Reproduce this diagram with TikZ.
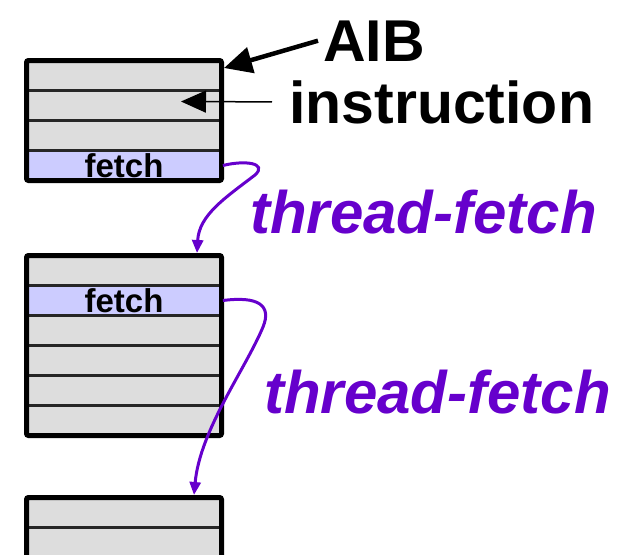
\documentclass[tikz,border=0pt]{standalone}
\usepackage{fontspec}
\setmainfont{Liberation Sans}
\usetikzlibrary{arrows.meta}
\definecolor{slotgray}{RGB}{221,221,221}
\definecolor{fetchblue}{RGB}{204,204,255}
\definecolor{tfpurple}{RGB}{102,0,204}
\begin{document}
\begin{tikzpicture}[x=1pt,y=-1pt]
	\tikzstyle{slot} = [draw=black!85, line width=2.8, fill=slotgray, inner sep=0,
	minimum width=195, minimum height=30]
	\tikzstyle{fetchslot} = [slot, fill=fetchblue, font=\fontsize{33}{36}\selectfont\bfseries]
	\tikzstyle{frame} = [draw=black, line width=5, rounded corners=2, minimum width=195, inner sep=0]
	\tikzstyle{label} = [inner sep=0, anchor=base west, font=\fontsize{59}{70}\selectfont\bfseries]
	\tikzstyle{tflabel} = [label, text=tfpurple, font=\fontsize{60}{70}\selectfont\bfseries\itshape]
	\tikzstyle{pointer} = [-{Triangle[length=28,width=26]}, line width=4.5]
	\tikzstyle{thinpointer} = [-{Triangle[length=25,width=22]}, line width=1.5]
	\tikzstyle{thread} = [-{Triangle[length=13,width=11]}, line width=3, draw=tfpurple]
	\useasboundingbox (0,0) rectangle (633,555);
	\clip (0,0) rectangle (633,555);
% block 1
\node [slot] (r1) at (124,75.5) {};
\node [slot] (r2) at (124,105.5) {};
\node [slot] (r3) at (124,135.5) {};
\node [fetchslot] (r4) at (124,165.5) {fetch};
\node [frame, minimum height=120] (f1) at (124,120.5) {};
% block 2
\node [slot] (r5) at (124,270.5) {};
\node [fetchslot] (r6) at (124,300.5) {fetch};
\node [slot] (r7) at (124,330.5) {};
\node [slot] (r8) at (124,360.5) {};
\node [slot] (r9) at (124,390.5) {};
\node [slot] (r10) at (124,420.5) {};
\node [frame, minimum height=180] (f2) at (124,345.5) {};
% block 3
\node [slot] (r11) at (124,512.5) {};
\node [slot] (r12) at (124,542.5) {};
\node [slot] (r13) at (124,572.5) {};
\node [slot] (r14) at (124,602.5) {};
\node [frame, minimum height=120] (f3) at (124,557.5) {};
% labels
\node [label] (aib) at (323,61) {AIB};
\node [label] (instr) at (289,123) {instruction};
\node [tflabel] (tf1) at (250,233) {thread-fetch};
\node [tflabel] (tf2) at (264,413) {thread-fetch};
\coordinate (ptr) at (181,101.5);
\draw [pointer] ([xshift=-5]aib.west) -- ([yshift=-10]f1.north east);
\draw [thinpointer] ([xshift=-17]instr.west) -- (ptr);
\draw [thread] (r4.east) .. controls (245,160) and (268,163) .. (255,175)
	.. controls (225,198) and (199,215) .. ([xshift=-27]f2.north east);
\draw [thread] (r6.east) .. controls (258,296) and (272,305) .. (263,327)
	.. controls (245,370) and (200,430) .. ([xshift=-30]f3.north east);
\end{tikzpicture}
\end{document}
